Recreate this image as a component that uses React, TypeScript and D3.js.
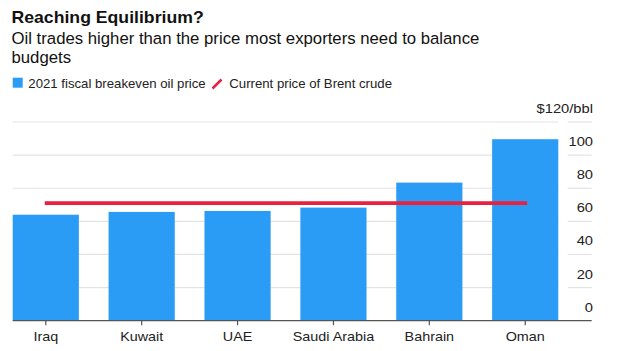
import React from "react";
import * as d3 from "d3";

const countries = ["Iraq", "Kuwait", "UAE", "Saudi Arabia", "Bahrain", "Oman"];
const breakeven = [64, 65.7, 66.3, 68.3, 83.4, 109.6];
const brentPrice = [71];
const yTicks = [0, 20, 40, 60, 80, 100, 120];
const yTickLabels = ["0", "20", "40", "60", "80", "100", "$120/bbl"];

const W = 620;
const H = 351;
const FONT = "'Liberation Sans', Arial, Helvetica, sans-serif";
const BLUE = "#2b9cf5";
const RED = "#e8213f";

export default function App() {
  const x = d3.scaleBand<string>().domain(countries).range([12.7, 558.3]).paddingInner(0.31).paddingOuter(0);
  const y = d3.scaleLinear().domain([0, 120]).range([320.7, 122]);
  const plotLeft = 12.7;
  const plotRight = 558.3;
  const axisRight = 591.7;
  const labelRight = 593;
  const firstC = (x(countries[0]) as number) + x.bandwidth() / 2;
  const lastC = (x(countries[countries.length - 1]) as number) + x.bandwidth() / 2;

  return (
    <svg width={W} height={H} style={{ position: "fixed", left: 0, top: 0, background: "#fff" }} fontFamily={FONT}>
      <rect x={0} y={0} width={W} height={H} fill="#fff" />
      <g transform={`translate(11.5,23.3) scale(1.07,1)`}>
        <text fontSize={16.5} fontWeight="bold" fill="#111">Reaching Equilibrium?</text>
      </g>
      <g transform={`translate(11.5,44.3) scale(1.015,1)`}>
        <text fontSize={16.5} fill="#111">Oil trades higher than the price most exporters need to balance</text>
      </g>
      <g transform={`translate(11.5,62.5) scale(1.015,1)`}>
        <text fontSize={16.5} fill="#111">budgets</text>
      </g>
      {/* legend */}
      <rect x={12.7} y={77.7} width={10} height={10} fill={BLUE} />
      <text x={28.3} y={88.3} fontSize={13.2} fill="#222">2021 fiscal breakeven oil price</text>
      <line x1={212.5} y1={88.5} x2={221.5} y2={79.5} stroke={RED} strokeWidth={2.5} />
      <text x={229.3} y={88.3} fontSize={13.2} fill="#222">Current price of Brent crude</text>

      {/* gridlines */}
      {yTicks.filter((t) => t !== 0).map((t) => (
        <g key={"g" + t}>
          <line x1={plotLeft} x2={plotRight} y1={y(t)} y2={y(t)} stroke="#e3e3e3" strokeWidth={1.2} />
          <line x1={567.7} x2={axisRight} y1={y(t)} y2={y(t)} stroke="#e3e3e3" strokeWidth={1.2} />
        </g>
      ))}
      {/* y labels */}
      {yTicks.map((t, i) => (
        <g key={"l" + t} transform={`translate(${labelRight},${y(t) - 9}) scale(1.09,1)`}>
          <text fontSize={13.5} fill="#222" textAnchor="end">{yTickLabels[i]}</text>
        </g>
      ))}
      {/* bars */}
      {countries.map((c, i) => (
        <rect key={c} x={x(c)} y={y(breakeven[i])} width={x.bandwidth()} height={y(0) - y(breakeven[i])} fill={BLUE} />
      ))}
      {/* baseline */}
      <line x1={plotLeft} x2={axisRight} y1={y(0)} y2={y(0)} stroke="#555" strokeWidth={1.2} />
      {countries.map((c) => {
        const cx = (x(c) as number) + x.bandwidth() / 2;
        return (
          <g key={"t" + c}>
            <line x1={cx} x2={cx} y1={y(0)} y2={y(0) + 4.5} stroke="#555" strokeWidth={1.2} />
            <g transform={`translate(${cx},341) scale(1.08,1)`}>
              <text fontSize={13.3} fill="#222" textAnchor="middle">{c}</text>
            </g>
          </g>
        );
      })}
      {/* brent line */}
      <line x1={firstC - 1} x2={lastC + 2} y1={y(brentPrice[0])} y2={y(brentPrice[0])} stroke={RED} strokeWidth={3.6} />
    </svg>
  );
}
